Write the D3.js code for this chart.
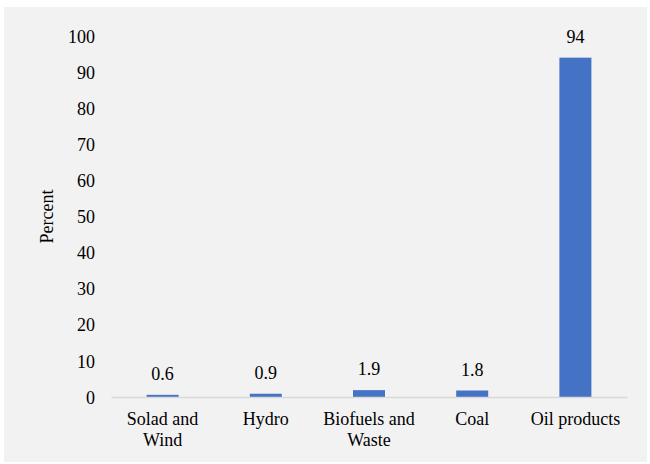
<!DOCTYPE html>
<html>
<head>
<meta charset="utf-8">
<script src="https://cdn.jsdelivr.net/npm/d3@7"></script>
<style>
  html, body { margin: 0; padding: 0; background: #ffffff; }
  svg { display: block; }
</style>
</head>
<body>
<div id="chart"></div>
<script>
// Share of energy sources, percent
const categories = [["Solad and", "Wind"], ["Hydro"], ["Biofuels and", "Waste"], ["Coal"], ["Oil products"]];
const values = [0.6, 0.9, 1.9, 1.8, 94];
const yTicks = [0, 10, 20, 30, 40, 50, 60, 70, 80, 90, 100];
const yTitle = "Percent";

const W = 650, H = 464;
const margin = { left: 111, right: 23, top: 36, bottom: 67 };
const fontSize = 18;
const serif = "'Liberation Serif', 'Times New Roman', serif";

const svg = d3.select("#chart").append("svg")
  .attr("width", W).attr("height", H)
  .style("font-family", serif);

// chart area background
svg.append("rect")
  .attr("x", 4).attr("y", 7)
  .attr("width", 643).attr("height", 455)
  .attr("fill", "#f2f2f2");

const x = d3.scaleBand()
  .domain(d3.range(categories.length))
  .range([margin.left, W - margin.right])
  .paddingInner(0.69)
  .paddingOuter(0.345);

const y = d3.scaleLinear()
  .domain([0, 100])
  .range([H - margin.bottom, margin.top]);

function styleText(sel) {
  sel.style("font-family", serif)
    .style("font-size", fontSize + "px")
    .style("fill", "#000");
}

// y tick labels (no axis line, no gridlines)
const yAxis = d3.axisLeft(y).tickValues(yTicks).tickSize(0).tickPadding(0);
const gy = svg.append("g")
  .attr("transform", `translate(${margin.left - 16},0)`)
  .call(yAxis)
  .attr("font-family", null)
  .attr("font-size", null);
gy.select(".domain").remove();
gy.selectAll("text").call(styleText).attr("dy", "0.34em");

// bars
svg.append("g").selectAll("rect")
  .data(values)
  .join("rect")
  .attr("x", (d, i) => x(i))
  .attr("width", x.bandwidth())
  .attr("y", d => y(d))
  .attr("height", d => y(0) - y(d))
  .attr("fill", "#4472c4");

// value labels
svg.append("g").selectAll("text")
  .data(values)
  .join("text")
  .attr("x", (d, i) => x(i) + x.bandwidth() / 2)
  .attr("y", d => y(d) - 15)
  .attr("text-anchor", "middle")
  .call(styleText)
  .text(d => d);

// category axis
const xAxis = d3.axisBottom(x).tickSize(0).tickFormat(() => "");
const gx = svg.append("g")
  .attr("transform", `translate(0,${y(0)})`)
  .call(xAxis);
gx.select(".domain")
  .attr("stroke", "#d9d9d9")
  .attr("stroke-width", 1.5);

const catG = svg.append("g").selectAll("text")
  .data(categories)
  .join("text")
  .attr("text-anchor", "middle")
  .call(styleText)
  .attr("x", (d, i) => x(i) + x.bandwidth() / 2)
  .attr("y", y(0) + 28);
catG.selectAll("tspan")
  .data(d => d)
  .join("tspan")
  .attr("x", function () { return d3.select(this.parentNode).attr("x"); })
  .attr("dy", (d, i) => i === 0 ? 0 : 21)
  .text(d => d);

// y axis title
svg.append("text")
  .attr("transform", `translate(53,${(y(0) + y(100)) / 2}) rotate(-90)`)
  .attr("text-anchor", "middle")
  .call(styleText)
  .text(yTitle);
</script>
</body>
</html>
